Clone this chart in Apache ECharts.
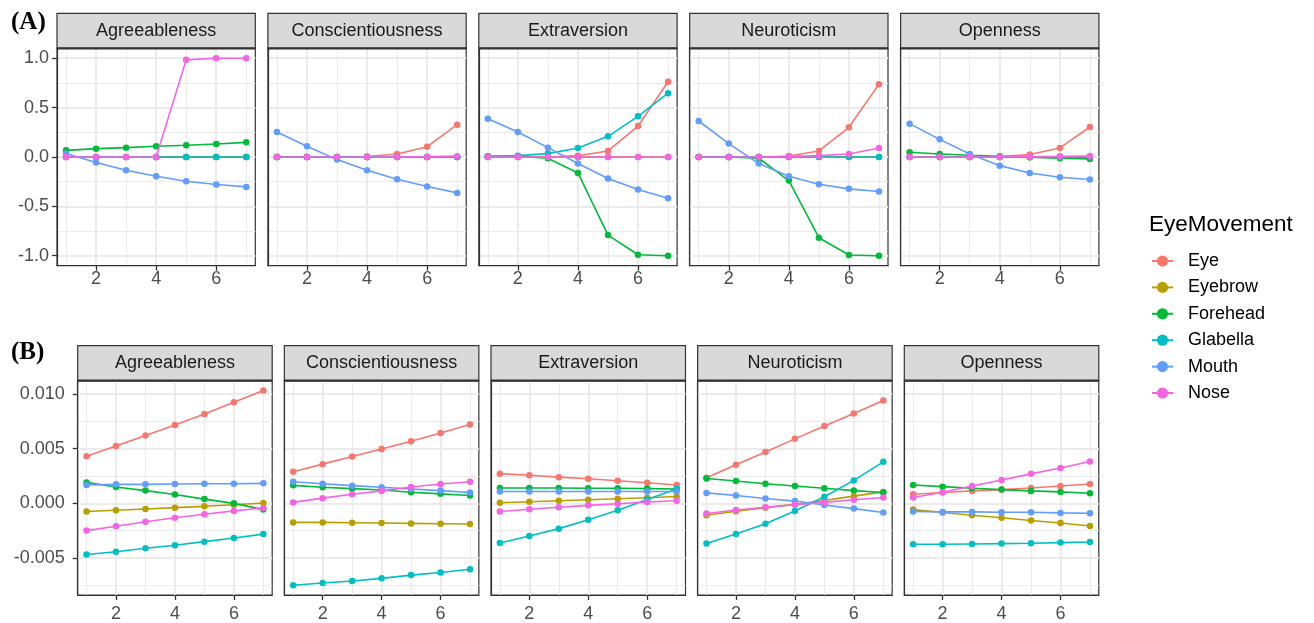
<!DOCTYPE html>
<html><head><meta charset="utf-8">
<script src="https://cdn.jsdelivr.net/npm/echarts@6/dist/echarts.min.js"></script>
<style>html,body{margin:0;padding:0;background:#fff}#chart{width:1314px;height:623px}</style>
</head><body><div id="chart"></div>
<script>
const xValues = [1, 2, 3, 4, 5, 6, 7];
const traits = ['Agreeableness', 'Conscientiousness', 'Extraversion', 'Neuroticism', 'Openness'];
const movements = ['Eye', 'Eyebrow', 'Forehead', 'Glabella', 'Mouth', 'Nose'];
const movementColors = ['#F8766D', '#B79F00', '#00BA38', '#00BFC4', '#619CFF', '#F564E3'];
const xBreaks = [2, 4, 6];
const xMinorBreaks = [1, 3, 5, 7];
const yBreaksA = [-1, -0.5, 0, 0.5, 1];
const yMinorA = [-0.75, -0.25, 0.25, 0.75];
const yBreaksB = [-0.005, 0, 0.005, 0.010];
const yMinorB = [-0.0075, -0.0025, 0.0025, 0.0075];

// each panel: rows in movement order Eye, Eyebrow, Forehead, Glabella, Mouth, Nose
const A_Agreeableness = [
  [0, 0, 0, 0, 0, 0, 0],
  [0, 0, 0, 0, 0, 0, 0],
  [0.067, 0.084, 0.094, 0.108, 0.118, 0.131, 0.148],
  [0, 0, 0, 0, 0, 0, 0],
  [0.034, -0.057, -0.135, -0.195, -0.246, -0.279, -0.303],
  [0, 0, 0, 0, 0.983, 1.0, 1.0]
];
const A_Conscientiousness = [
  [0, 0, 0, 0.005, 0.03, 0.104, 0.327],
  [0, 0, 0, 0, 0, 0, 0],
  [0, 0, 0, 0, 0, 0, 0],
  [0, 0, 0, 0, 0, 0, 0],
  [0.253, 0.108, -0.027, -0.135, -0.226, -0.300, -0.364],
  [0, 0, 0, 0, 0, 0.003, 0.008]
];
const A_Extraversion = [
  [0, 0, 0, 0.013, 0.061, 0.313, 0.761],
  [0, 0, 0, 0, 0, 0, 0],
  [0.007, 0.007, -0.013, -0.162, -0.791, -0.99, -1.0],
  [0.007, 0.013, 0.034, 0.091, 0.209, 0.411, 0.646],
  [0.387, 0.253, 0.094, -0.067, -0.219, -0.330, -0.418],
  [0, 0, 0, 0, 0, 0, 0]
];
const A_Neuroticism = [
  [0, 0, 0, 0.01, 0.061, 0.30, 0.737],
  [0, 0, 0, 0, 0, 0, 0],
  [0, 0, -0.013, -0.239, -0.818, -0.993, -1.0],
  [0, 0, 0, 0, 0, 0, 0],
  [0.364, 0.135, -0.067, -0.195, -0.276, -0.323, -0.350],
  [0, 0, 0, 0.005, 0.013, 0.03, 0.091]
];
const A_Openness = [
  [0, 0, 0, 0.005, 0.024, 0.091, 0.303],
  [0, 0, 0, 0, -0.003, -0.006, -0.01],
  [0.047, 0.030, 0.017, 0.007, -0.003, -0.013, -0.02],
  [0, 0, 0, 0, 0, 0, 0],
  [0.337, 0.178, 0.030, -0.088, -0.162, -0.205, -0.229],
  [0, 0, 0, 0, 0.003, 0.006, 0.01]
];
const B_Agreeableness = [
  [0.00431, 0.00524, 0.0062, 0.00716, 0.00817, 0.00925, 0.01033],
  [-0.00075, -0.00063, -0.00051, -0.00039, -0.00027, -0.00012, 0.00003],
  [0.00192, 0.0015, 0.00117, 0.00081, 0.00039, 0.0, -0.00057],
  [-0.00467, -0.00443, -0.0041, -0.00383, -0.0035, -0.00317, -0.00281],
  [0.00168, 0.00174, 0.00174, 0.00177, 0.0018, 0.0018, 0.00183],
  [-0.00249, -0.0021, -0.00168, -0.00132, -0.00099, -0.00069, -0.00042]
];
const B_Conscientiousness = [
  [0.0029, 0.00359, 0.00428, 0.00497, 0.00569, 0.00644, 0.00722],
  [-0.00174, -0.00174, -0.00177, -0.0018, -0.00183, -0.00186, -0.00189],
  [0.00165, 0.00147, 0.00135, 0.00123, 0.00102, 0.00087, 0.00072],
  [-0.00749, -0.00728, -0.0071, -0.00686, -0.00656, -0.00632, -0.00602],
  [0.00198, 0.0018, 0.00162, 0.00147, 0.00132, 0.00117, 0.00099],
  [0.00009, 0.00048, 0.00084, 0.00114, 0.0015, 0.00177, 0.00198]
];
const B_Extraversion = [
  [0.00272, 0.00257, 0.0024, 0.00225, 0.00207, 0.00189, 0.00168],
  [0.00006, 0.00015, 0.00024, 0.00033, 0.00042, 0.00051, 0.00063],
  [0.00141, 0.00141, 0.0014, 0.00139, 0.00138, 0.00135, 0.00132],
  [-0.00362, -0.00299, -0.00231, -0.0015, -0.00063, 0.00036, 0.00132],
  [0.00108, 0.00108, 0.00108, 0.00108, 0.00108, 0.00108, 0.00108],
  [-0.00075, -0.00054, -0.00036, -0.00018, -0.00003, 0.00012, 0.00024]
];
const B_Neuroticism = [
  [0.00234, 0.00353, 0.0047, 0.0059, 0.00707, 0.00823, 0.0094],
  [-0.00108, -0.00072, -0.00039, -0.00009, 0.00027, 0.00066, 0.00105],
  [0.00228, 0.00204, 0.0018, 0.00159, 0.00138, 0.00117, 0.00099],
  [-0.00368, -0.00281, -0.00186, -0.00069, 0.0006, 0.0021, 0.0038],
  [0.00096, 0.00072, 0.00045, 0.00021, -0.00015, -0.00048, -0.00084],
  [-0.00093, -0.0006, -0.00036, -0.00012, 0.00009, 0.00033, 0.00054]
];
const B_Openness = [
  [0.00084, 0.00099, 0.00114, 0.00126, 0.00141, 0.00159, 0.00177],
  [-0.00057, -0.00084, -0.00108, -0.00132, -0.00156, -0.0018, -0.00207],
  [0.00168, 0.00153, 0.00138, 0.00126, 0.00114, 0.00105, 0.00093],
  [-0.00374, -0.00374, -0.00371, -0.00368, -0.00365, -0.00359, -0.00353],
  [-0.00075, -0.00078, -0.00078, -0.00081, -0.00081, -0.00087, -0.0009],
  [0.00054, 0.00102, 0.00159, 0.00213, 0.0027, 0.00323, 0.00383]
];

const rows = [
  { label: '(A)', labelTop: 10, top: 48.3, height: 217.3, left0: 57, step: 210.9, width: 198.3,
    yBreaks: yBreaksA, yMinor: yMinorA, digits: 1, xMargin: 4, yMargin: 8,
    panels: [A_Agreeableness, A_Conscientiousness, A_Extraversion, A_Neuroticism, A_Openness] },
  { label: '(B)', labelTop: 340, top: 380.7, height: 217.6, left0: 77.7, step: 206.65, width: 194.5,
    yBreaks: yBreaksB, yMinor: yMinorB, digits: 3, xMargin: 10, yMargin: 13,
    panels: [B_Agreeableness, B_Conscientiousness, B_Extraversion, B_Neuroticism, B_Openness] }
];

const FONT = 'Liberation Sans, Arial, sans-serif';
const STRIP_H = 35;
const xr = [Math.min(...xValues), Math.max(...xValues)];
const xPad = (xr[1] - xr[0]) * 0.05;

const grids = [], xAxes = [], yAxes = [], series = [], graphics = [];
const titles = [];
rows.forEach((row, r) => {
  const all = row.panels.flat(2);
  const lo = Math.min(...all), hi = Math.max(...all);
  const yPad = (hi - lo) * 0.05;
  titles.push({ text: row.label, left: 11, top: row.labelTop, padding: 0,
    textStyle: { fontFamily: 'Liberation Serif, Times New Roman, serif', fontWeight: 'bold', fontSize: 25, color: '#000' } });
  row.panels.forEach((panel, p) => {
    const g = grids.length;
    const left = row.left0 + p * row.step;
    grids.push({ left: left, top: row.top, width: row.width, height: row.height, show: true,
      backgroundColor: '#fff', borderColor: '#333', borderWidth: 1.2, containLabel: false });
    // strip
    graphics.push({ type: 'rect', shape: { x: left, y: row.top - STRIP_H, width: row.width, height: STRIP_H },
      style: { fill: '#D9D9D9', stroke: '#333', lineWidth: 1.2 }, silent: true });
    graphics.push({ type: 'line', shape: { x1: left, y1: row.top, x2: left + row.width, y2: row.top },
      style: { stroke: '#333', lineWidth: 2.2 }, silent: true, z: 10 });
    graphics.push({ type: 'text', x: left + row.width / 2, y: row.top - STRIP_H / 2, silent: true,
      style: { text: traits[p], fontSize: 18, fontFamily: FONT, fill: '#1A1A1A',
        textAlign: 'center', textVerticalAlign: 'middle', align: 'center', verticalAlign: 'middle' } });
    const xi = xAxes.length;
    xAxes.push({ type: 'value', gridIndex: g, min: xr[0] - xPad, max: xr[1] + xPad, position: 'bottom',
      axisLine: { show: true, onZero: false, lineStyle: { color: '#333', width: 1.2 } },
      axisTick: { show: true, customValues: xBreaks, length: 5, lineStyle: { color: '#333', width: 1.3 } },
      axisLabel: { show: true, customValues: xBreaks, fontSize: 18, fontFamily: FONT, color: '#4D4D4D', margin: row.xMargin },
      splitLine: { show: true, lineStyle: { color: '#EBEBEB', width: 2 } } });
    xAxes.push({ type: 'value', gridIndex: g, min: xr[0] - xPad, max: xr[1] + xPad, position: 'bottom',
      axisLine: { show: false, onZero: false }, axisTick: { show: false, customValues: xMinorBreaks },
      axisLabel: { show: false, customValues: xMinorBreaks },
      splitLine: { show: true, lineStyle: { color: '#EBEBEB', width: 1 } } });
    const yi = yAxes.length;
    yAxes.push({ type: 'value', gridIndex: g, min: lo - yPad, max: hi + yPad, position: 'left',
      axisLine: { show: true, onZero: false, lineStyle: { color: '#333', width: 1.2 } },
      axisTick: { show: p === 0, customValues: row.yBreaks, length: 5, lineStyle: { color: '#333', width: 1.3 } },
      axisLabel: { show: p === 0, customValues: row.yBreaks, fontSize: 18, fontFamily: FONT, color: '#4D4D4D', margin: row.yMargin,
        formatter: v => Number(v).toFixed(row.digits) },
      splitLine: { show: true, lineStyle: { color: '#EBEBEB', width: 2 } } });
    yAxes.push({ type: 'value', gridIndex: g, min: lo - yPad, max: hi + yPad, position: 'left',
      axisLine: { show: false, onZero: false }, axisTick: { show: false, customValues: row.yMinor },
      axisLabel: { show: false, customValues: row.yMinor },
      splitLine: { show: true, lineStyle: { color: '#EBEBEB', width: 1 } } });
    panel.forEach((vals, m) => {
      series.push({ type: 'line', name: movements[m], xAxisIndex: xi, yAxisIndex: yi,
        data: xValues.map((x, i) => [x, vals[i]]),
        symbol: 'circle', symbolSize: 6.5, showSymbol: true, showAllSymbol: true,
        color: movementColors[m], itemStyle: { color: movementColors[m] },
        lineStyle: { color: movementColors[m], width: 1.6 }, emphasis: { disabled: true },
        animation: false, z: 2 + m * 0.01 });
    });
  });
});
titles.push({ text: 'EyeMovement', left: 1149, top: 213, padding: 0,
  textStyle: { fontFamily: FONT, fontWeight: 'normal', fontSize: 22.5, color: '#000' } });

const chart = echarts.init(document.getElementById('chart'), null, { renderer: 'canvas' });
chart.setOption({
  animation: false,
  backgroundColor: '#fff',
  title: titles,
  legend: { data: movements, orient: 'vertical', left: 1151, top: 252, padding: 0,
    itemWidth: 21, itemHeight: 14, itemGap: 8.4, selectedMode: false,
    textStyle: { fontSize: 18, fontFamily: FONT, color: '#000', padding: [0, 0, 0, 10] } },
  grid: grids, xAxis: xAxes, yAxis: yAxes, series: series,
  graphic: { elements: graphics }
});
</script></body></html>
